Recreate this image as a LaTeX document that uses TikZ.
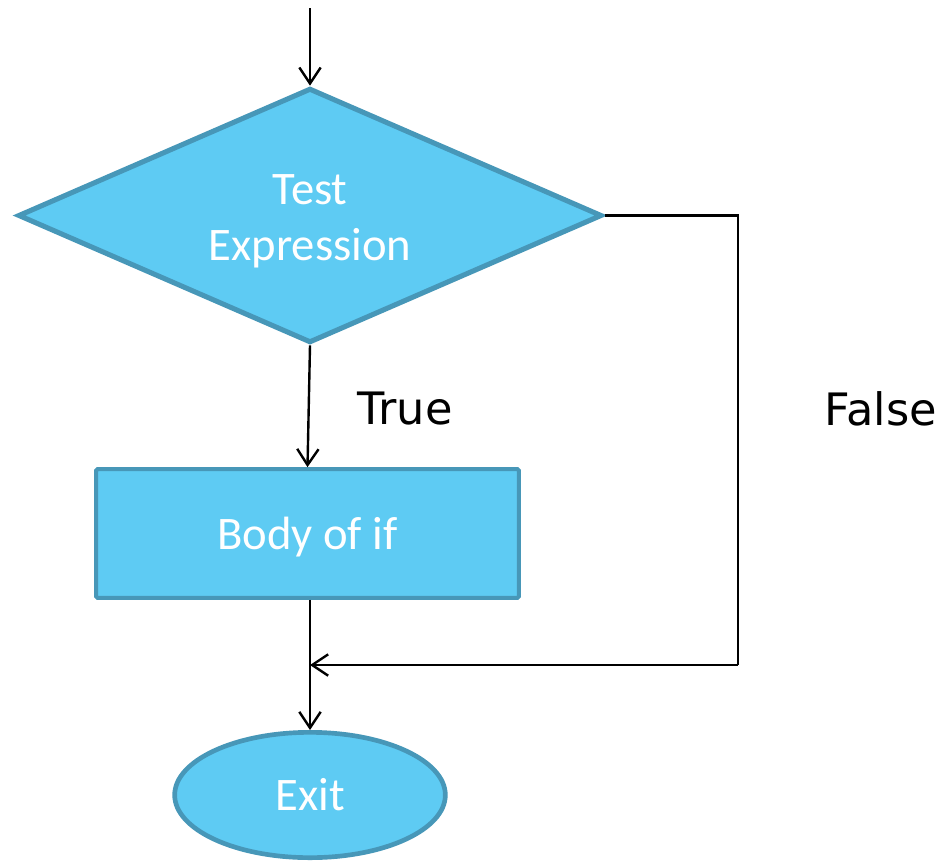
\documentclass[tikz,border=0pt]{standalone}
\usepackage{fontspec}
\setmainfont{Carlito}
\newfontfamily\labfont{DejaVu Sans}
\usetikzlibrary{shapes.geometric,arrows.meta}
\definecolor{boxfill}{HTML}{5ECBF3}
\definecolor{boxline}{HTML}{4797B8}
\tikzset{
  shapebox/.style={fill=boxfill,draw=boxline,text=white,font=\fontsize{35}{42}\selectfont,align=center,inner sep=0pt},
  arr/.style={draw=black,line width=1.8pt,-{Straight Barb[length=12pt,width=16pt,line width=1.8pt]}},
  plain/.style={draw=black,line width=1.8pt},
  lab/.style={font=\labfont\fontsize{33.5}{40}\selectfont,text=black,inner sep=0pt}
}
\begin{document}
\begin{tikzpicture}[x=0.75pt,y=-0.75pt]
\useasboundingbox (0,0) rectangle (946,861);
\node[shapebox,shape=diamond,aspect=2.29,minimum width=438pt,minimum height=191pt,line width=3.8pt] (dia) at (310,215.5) {};
\node[text=white,font=\fontsize{35}{42}\selectfont,align=center,inner sep=0pt] (diatext) at (310,221) {Test\\Expression};
\node[shapebox,rectangle,minimum width=317pt,minimum height=96.5pt,line width=3pt,rounded corners=1pt,text depth=0pt] (body) at (307.5,533.5) {Body of if};
\node[shapebox,ellipse,minimum width=203pt,minimum height=94pt,line width=3.5pt] (exit) at (310,795) {\raisebox{-1.5pt}{Exit}};
\coordinate (start) at (310,8);
\coordinate (cornerB) at (738,665);
\coordinate (merge) at (310,665);
\node[lab] (true) at (405,409) {True};
\node[lab] (false) at (881,409) {False};
\draw[arr] (start) -- (dia.north);
\draw[arr] (dia.south) -- (body.north);
\draw[arr] (exit.north |- body.south) -- (exit.north);
\draw[plain] (dia.east) -- (dia.east -| cornerB) -- (cornerB);
\draw[arr] (cornerB) -- (merge);
\end{tikzpicture}
\end{document}
